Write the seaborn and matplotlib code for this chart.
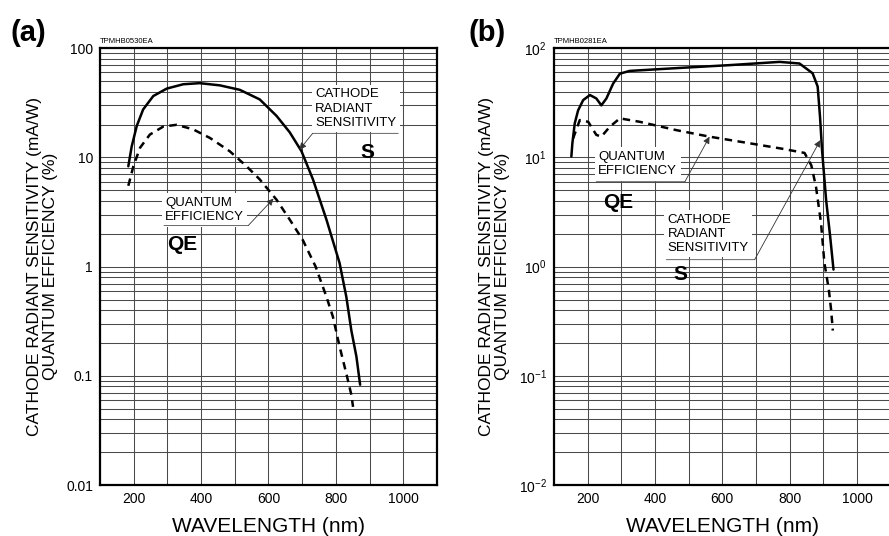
import numpy as np
import matplotlib
matplotlib.use("Agg")
import matplotlib.pyplot as plt
import matplotlib.ticker as mticker
import seaborn as sns

sns.set_style("white")
plt.rcParams["font.family"] = ["Liberation Sans", "DejaVu Sans"]
plt.rcParams["mathtext.fontset"] = "custom"
plt.rcParams["mathtext.rm"] = "Liberation Sans"
plt.rcParams["mathtext.it"] = "Liberation Sans:italic"
plt.rcParams["mathtext.bf"] = "Liberation Sans:bold"
for key in ["text.color", "axes.labelcolor", "xtick.color", "ytick.color"]:
    plt.rcParams[key] = "black"

# panel (a): wavelength (nm) vs value
a_s_wl = [184, 194, 209, 228, 258, 298, 347, 396, 456, 515, 574, 624, 663, 698,
          732, 772, 811, 831, 846, 861, 872]
a_s_val = [8.3, 12.6, 19.4, 27.5, 36.5, 42.7, 46.8, 47.9, 45.7, 41.6, 34, 24, 17, 11.4,
           6.3, 2.7, 1.08, 0.53, 0.26, 0.15, 0.083]
a_qe_wl = [184, 199, 219, 248, 288, 327, 376, 426, 485, 535, 574, 624, 663, 702,
           740, 772, 791, 811, 831, 846, 851]
a_qe_val = [5.5, 8.3, 12.3, 16.2, 19.2, 19.9, 18.1, 15.1, 11.4, 8.3, 6.3, 4.1, 2.7, 1.75,
            1.0, 0.53, 0.35, 0.186, 0.105, 0.067, 0.052]

# panel (b)
b_s_wl = [152, 155, 162, 172, 187, 207, 226, 241, 256, 276, 296, 325, 473, 620,
          770, 829, 868, 883, 890, 896, 908, 920, 930]
b_s_val = [10.2, 13.5, 20.5, 27, 33.5, 37.3, 34.7, 30, 34.7, 47.5, 58.5, 62, 66, 70,
           75, 72.5, 59, 44.6, 23.5, 11.7, 4.1, 1.9, 0.94]
b_qe_wl = [157, 177, 202, 226, 241, 266, 296, 355, 463, 562, 680, 779, 844, 864,
           878, 893, 903, 916, 923, 928]
b_qe_val = [14.9, 22, 21.2, 16.1, 15.5, 19.1, 22.8, 21.2, 17.8, 15.5, 13.5, 12, 11, 8.5,
            5.4, 2.5, 1.08, 0.62, 0.4, 0.26]

y_ticks = [0.01, 0.1, 1, 10, 100]
a_ticklabels = ["0.01", "0.1", "1", "10", "100"]
b_ticklabels = ["$10^{-2}$", "$10^{-1}$", "$10^{0}$", "$10^{1}$", "$10^{2}$"]
x_ticks = [200, 400, 600, 800, 1000]

ylabel = "CATHODE RADIANT SENSITIVITY (mA/W)\nQUANTUM EFFICIENCY (%)"

fig = plt.figure(figsize=(8.89, 5.36), dpi=100)
ax_a = fig.add_axes([0.1125, 0.095, 0.379, 0.815])
ax_b = fig.add_axes([0.623, 0.095, 0.379, 0.815])


def style_axes(ax, labels, code):
    ax.set_yscale("log")
    ax.set_xlim(100, 1100)
    ax.set_ylim(0.01, 100)
    ax.set_xticks(x_ticks)
    ax.xaxis.set_minor_locator(mticker.MultipleLocator(100))
    ax.set_yticks(y_ticks)
    ax.set_yticklabels(labels)
    ax.yaxis.set_minor_locator(mticker.LogLocator(base=10, subs=np.arange(2, 10)))
    ax.yaxis.set_minor_formatter(mticker.NullFormatter())
    ax.tick_params(which="both", length=0, labelsize=10, pad=5)
    ax.grid(True, which="both", color="#4a4a4a", lw=0.75)
    ax.set_axisbelow(True)
    for sp in ax.spines.values():
        sp.set_linewidth(1.6)
        sp.set_color("black")
    ax.set_xlabel("WAVELENGTH (nm)", fontsize=15, labelpad=8)
    ax.set_ylabel(ylabel, fontsize=12.5, labelpad=6, linespacing=1.1)
    ax.text(0.0, 1.008, code, transform=ax.transAxes, fontsize=5.5, va="bottom")


def draw(ax, s_wl, s_val, qe_wl, qe_val):
    sns.lineplot(x=s_wl, y=s_val, ax=ax, color="black", linewidth=1.8, zorder=5)
    sns.lineplot(x=qe_wl, y=qe_val, ax=ax, color="black", linewidth=1.8,
                 linestyle=(0, (3, 2.2)), zorder=5)


def label(ax, txt, pos, line_x, line_y, tip, from_right):
    ax.text(pos[0], pos[1], txt, fontsize=9.5, va="center", ha="left",
            linespacing=1.25, zorder=4,
            bbox=dict(facecolor="white", edgecolor="none", pad=2.5))
    ax.annotate("", xy=(line_x[1], line_y), xytext=(line_x[0], line_y), zorder=4,
                arrowprops=dict(arrowstyle="-", color="#666666", lw=0.7,
                                shrinkA=0, shrinkB=0))
    start = (line_x[1], line_y) if from_right else (line_x[0], line_y)
    ax.annotate("", xy=tip, xytext=start, zorder=6,
                arrowprops=dict(arrowstyle="-|>", color="#333333", lw=0.6,
                                mutation_scale=10, shrinkA=0, shrinkB=0))


style_axes(ax_a, a_ticklabels, "TPMHB0530EA")
style_axes(ax_b, b_ticklabels, "TPMHB0281EA")
draw(ax_a, a_s_wl, a_s_val, a_qe_wl, a_qe_val)
draw(ax_b, b_s_wl, b_s_val, b_qe_wl, b_qe_val)

# annotations, panel (a)
label(ax_a, "CATHODE\nRADIANT\nSENSITIVITY", (738, 28), (731, 985), 16.6, (692, 11.8), False)
ax_a.text(893, 11.2, "S", fontsize=15, fontweight="bold", ha="center", va="center")
label(ax_a, "QUANTUM\nEFFICIENCY", (293, 3.3), (290, 540), 2.38, (615, 4.2), True)
ax_a.text(300, 1.6, "QE", fontsize=15, fontweight="bold", ha="left", va="center")

# annotations, panel (b)
label(ax_b, "QUANTUM\nEFFICIENCY", (232, 8.7), (226, 489), 6.0, (562, 15.5), True)
ax_b.text(245, 3.9, "QE", fontsize=15, fontweight="bold", ha="left", va="center")
label(ax_b, "CATHODE\nRADIANT\nSENSITIVITY", (438, 2.0), (434, 696), 1.16, (891, 14.4), True)
ax_b.text(455, 0.85, "S", fontsize=15, fontweight="bold", ha="left", va="center")

fig.text(0.012, 0.965, "(a)", fontsize=21, fontweight="bold", va="top")
fig.text(0.527, 0.965, "(b)", fontsize=21, fontweight="bold", va="top")

fig.savefig("out.png", dpi=100)
